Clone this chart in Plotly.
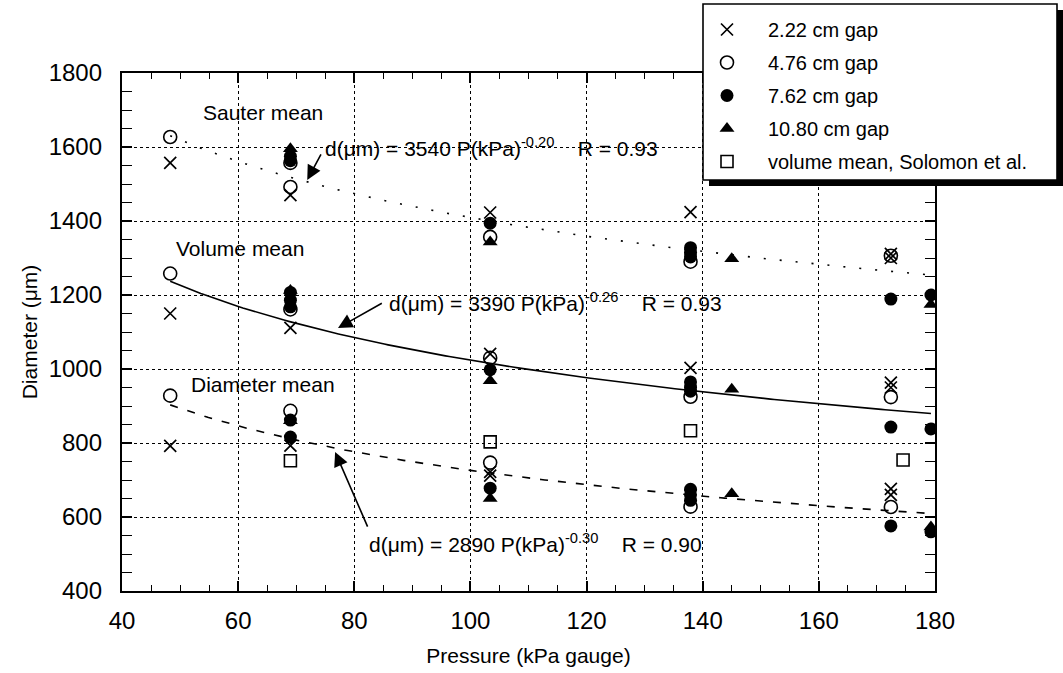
import numpy as np
import plotly.graph_objects as go

# Measured drop diameters (um) against pressure (kPa gauge), one group per gap size.
# Each list holds the Sauter-mean points, then volume-mean, then diameter-mean.
p_222 = [48.3, 69.0, 103.4, 137.9, 172.4, 172.4,
         48.3, 69.0, 103.4, 137.9, 172.4, 172.4,
         48.3, 69.0, 103.4, 103.4, 137.9, 172.4, 172.4]
d_222 = [1557, 1470, 1423, 1424, 1311, 1300,
         1150, 1111, 1041, 1003, 963, 950,
         792, 793, 722, 712, 658, 676, 660]

p_476 = [48.3, 69.0, 69.0, 103.4, 137.9, 172.4,
         48.3, 69.0, 103.4, 137.9, 172.4,
         48.3, 69.0, 103.4, 137.9, 172.4]
d_476 = [1627, 1557, 1492, 1357, 1290, 1306,
         1258, 1161, 1030, 925, 924,
         928, 887, 747, 628, 627]

p_762 = [69.0, 69.0, 103.4, 137.9, 137.9, 137.9, 172.4, 179.3,
         69.0, 69.0, 69.0, 103.4, 137.9, 137.9, 137.9, 172.4, 179.3,
         69.0, 69.0, 103.4, 137.9, 137.9, 137.9, 172.4, 179.3]
d_762 = [1575, 1563, 1394, 1328, 1315, 1303, 1189, 1200,
         1207, 1186, 1168, 998, 965, 951, 940, 843, 838,
         862, 816, 678, 675, 660, 645, 576, 560]

p_1080 = [69.0, 103.4, 145.0, 179.3,
          69.0, 103.4, 145.0,
          69.0, 103.4, 145.0, 179.3]
d_1080 = [1595, 1343, 1298, 1174,
          1212, 968, 945,
          860, 650, 663, 573]

# Volume mean reported by Solomon et al.
p_solomon = [69.0, 103.4, 137.9, 174.5]
d_solomon = [752, 803, 833, 754]

# Power-law fits d = C * P**n
sauter_c, sauter_n, sauter_r = 3540, -0.20, 0.93
volume_c, volume_n, volume_r = 3390, -0.26, 0.93
diam_c, diam_n, diam_r = 2890, -0.30, 0.90

x_ticks = [40, 60, 80, 100, 120, 140, 160, 180]
y_ticks = [400, 600, 800, 1000, 1200, 1400, 1600, 1800]

FONT = "Liberation Sans, Arial, Helvetica, sans-serif"
NB = "\u00a0"

fit_p = np.linspace(48.3, 179.3, 200)

fig = go.Figure()

# fitted curves (on the overlaid x axis that carries the tick labels)
fig.add_trace(go.Scatter(x=fit_p, y=sauter_c * fit_p ** sauter_n, mode="lines", xaxis="x2",
                         line=dict(color="black", width=1.6, dash="2px,14px"),
                         showlegend=False, hoverinfo="skip"))
fig.add_trace(go.Scatter(x=fit_p, y=volume_c * fit_p ** volume_n, mode="lines", xaxis="x2",
                         line=dict(color="black", width=1.6),
                         showlegend=False, hoverinfo="skip"))
fig.add_trace(go.Scatter(x=fit_p, y=diam_c * fit_p ** diam_n, mode="lines", xaxis="x2",
                         line=dict(color="black", width=1.6, dash="8px,10px"),
                         showlegend=False, hoverinfo="skip"))

series = [
    ("2.22 cm gap", p_222, d_222, dict(symbol="x-thin-open", size=12, color="black", line=dict(color="black", width=1.7))),
    ("4.76 cm gap", p_476, d_476, dict(symbol="circle-open", size=13, color="black", line=dict(color="black", width=1.6))),
    ("7.62 cm gap", p_762, d_762, dict(symbol="circle", size=13, color="black", line=dict(width=0))),
    ("10.80 cm gap", p_1080, d_1080, dict(symbol="triangle-up", size=13, color="black", line=dict(width=0))),
    ("volume mean, Solomon et al.", p_solomon, d_solomon, dict(symbol="square-open", size=12, color="black", line=dict(color="black", width=1.6))),
]
for i, (name, px, dy, mk) in enumerate(series):
    fig.add_trace(go.Scatter(x=px, y=dy, mode="markers", name=name, marker=mk,
                             legendgroup=f"g{i}"))


def fit_label(c, n, r):
    return (f"d(\u03bcm) = {c} P(kPa)<sup>{n:.2f}</sup>{NB}{NB}{NB}{NB}R = {r:.2f}")


text_font = dict(family=FONT, size=21, color="black")
annotations = [
    dict(x=64.3, y=1692, text="Sauter mean", showarrow=False, font=text_font),
    dict(x=60.3, y=1327, text="Volume mean", showarrow=False, font=text_font),
    dict(x=64.3, y=957, text="Diameter mean", showarrow=False, font=text_font),
    dict(x=74.6, y=1600, text=fit_label(sauter_c, sauter_n, sauter_r), xanchor="left",
         showarrow=False, font=text_font),
    dict(x=85.6, y=1180, text=fit_label(volume_c, volume_n, volume_r), xanchor="left",
         showarrow=False, font=text_font),
    dict(x=82.2, y=530, text=fit_label(diam_c, diam_n, diam_r), xanchor="left",
         showarrow=False, font=text_font),
]
arrows = [
    ((71.9, 1511), (74.4, 1584)),
    ((77.2, 1111), (85.0, 1180)),
    ((76.7, 776), (82.4, 570)),
]
for (tx, ty), (sx, sy) in arrows:
    annotations.append(dict(x=tx, y=ty, ax=sx, ay=sy, axref="x", ayref="y", text="",
                            showarrow=True, arrowhead=2, arrowsize=1.8, arrowwidth=1.6,
                            arrowcolor="black", standoff=0))


# legend frame with a drop shadow (paper coordinates)
def px_to_paper_x(px):
    return (px - 122) / 813


def px_to_paper_y(py):
    return (591 - py) / 518


shapes = [
    dict(type="rect", xref="paper", yref="paper", layer="above",
         x0=px_to_paper_x(709), x1=px_to_paper_x(1063), y0=px_to_paper_y(186), y1=px_to_paper_y(10),
         fillcolor="black", line=dict(width=0)),
    dict(type="rect", xref="paper", yref="paper", layer="above",
         x0=px_to_paper_x(703), x1=px_to_paper_x(1057), y0=px_to_paper_y(180), y1=px_to_paper_y(4),
         fillcolor="white", line=dict(color="black", width=1.6)),
]

fig.update_layout(
    template="none",
    width=1063, height=673,
    margin=dict(l=122, r=128, t=73, b=82, autoexpand=False),
    paper_bgcolor="white", plot_bgcolor="white",
    font=dict(family=FONT, color="black"),
    annotations=annotations, shapes=shapes,
    # frame, inward ticks and dotted grid
    xaxis=dict(
        range=[40, 180], tickmode="array", tickvals=x_ticks, showticklabels=False,
        showline=True, linecolor="black", linewidth=1.6, mirror="allticks",
        ticks="inside", ticklen=10, tickwidth=1.5, tickcolor="black",
        minor=dict(tickmode="linear", dtick=5, tick0=40, ticks="inside", ticklen=6,
                   tickwidth=1.2, tickcolor="black", showgrid=False),
        showgrid=True, gridcolor="black", gridwidth=1, griddash="dot",
        zeroline=False,
    ),
    # same scale, carries the pressure labels and title
    xaxis2=dict(
        overlaying="x", matches="x", anchor="y", side="bottom",
        tickmode="array", tickvals=x_ticks,
        ticks="outside", ticklen=8, tickcolor="rgba(0,0,0,0)",
        showline=False, showgrid=False, zeroline=False,
        tickfont=dict(family=FONT, size=24, color="black"),
        title=dict(text="Pressure (kPa gauge)", standoff=15,
                   font=dict(family=FONT, size=21, color="black")),
    ),
    yaxis=dict(
        range=[400, 1800], tickmode="array", tickvals=y_ticks,
        ticktext=[f"{v}{NB}{NB}" for v in y_ticks],
        showline=True, linecolor="black", linewidth=1.6, mirror="allticks",
        ticks="inside", ticklen=10, tickwidth=1.5, tickcolor="black",
        minor=dict(tickmode="linear", dtick=50, tick0=400, ticks="inside", ticklen=6,
                   tickwidth=1.2, tickcolor="black", showgrid=False),
        showgrid=True, gridcolor="black", gridwidth=1, griddash="dot",
        zeroline=False, tickfont=dict(family=FONT, size=24, color="black"),
        title=dict(text="Diameter (\u03bcm)", standoff=5,
                   font=dict(family=FONT, size=21, color="black")),
    ),
    legend=dict(x=px_to_paper_x(686), y=px_to_paper_y(10), xanchor="left", yanchor="top",
                bgcolor="rgba(0,0,0,0)", borderwidth=0, itemwidth=72,
                tracegroupgap=4, font=dict(family=FONT, size=20, color="black")),
)

fig.write_html("out.html")
